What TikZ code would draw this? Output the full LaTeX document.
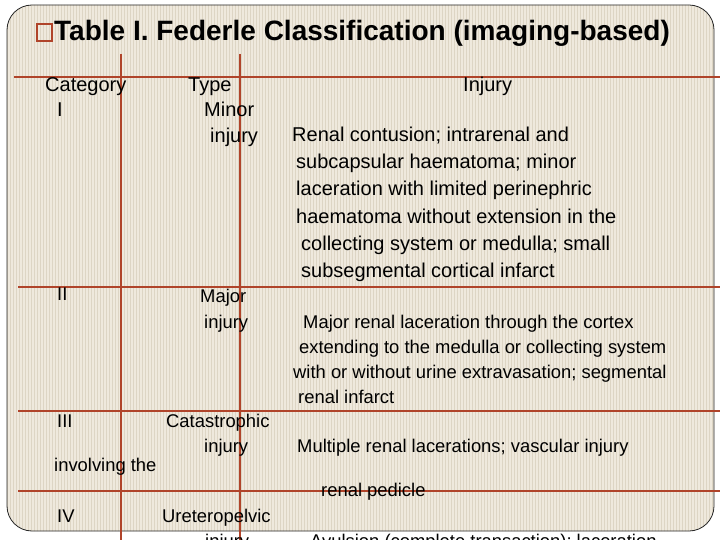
\documentclass[tikz,border=0pt]{standalone}
\usepackage{fontspec}
\setmainfont{Liberation Sans}
\begin{document}
\begin{tikzpicture}[x=1pt,y=-1pt,
  txt/.style={anchor=base west,inner sep=0pt,font=\fontsize{20}{20}\selectfont},
  tline/.style={draw=rline,line width=1.2pt}]
\definecolor{bg}{HTML}{EFE9DD}
\definecolor{stripe}{HTML}{DDD5C4}
\definecolor{rline}{HTML}{B0442A}
\useasboundingbox (0,0) rectangle (720,540);
\clip (0,0) rectangle (720,540);
\begin{scope}
\clip[rounded corners=25pt] (7,5) rectangle (714,531);
\fill[bg] (0,0) rectangle (720,540);
\foreach \i in {0,...,240} {\draw[stripe,line width=0.5pt] (3*\i+1.5,0) -- (3*\i+1.5,540);}
\end{scope}
\draw[black!85,line width=0.8pt,rounded corners=25pt] (7,5) rectangle (714,531);
% title
\draw[draw=rline,line width=1.2pt] (37,24) rectangle (52,41);
\node[txt,font=\fontsize{28}{28}\selectfont\bfseries] (title) at (54,41) {Table I. Federle Classification (imaging-based)};
% lines
\coordinate (v1t) at (121,54); \coordinate (v1b) at (121,540);
\coordinate (v2t) at (240,54); \coordinate (v2b) at (240,540);
\draw[tline] (v1t) -- (v1b);
\draw[tline] (v2t) -- (v2b);
\draw[tline] (14,77) -- (720,77);
\draw[tline] (18,287) -- (720,287);
\draw[tline] (18,411) -- (720,411);
\draw[tline] (18,491) -- (720,491);
% header
\node[txt] (h1) at (45,92) {Category};
\node[txt] (h2) at (188,92) {Type};
\node[txt] (h3) at (463,92) {Injury};
% row I
\node[txt] (c1) at (57,117) {I};
\node[txt] (t1a) at (204,117) {Minor};
\node[txt] (t1b) at (210,143) {injury};
\node[txt] (i1a) at (292,142) {Renal contusion; intrarenal and};
\node[txt] (i1b) at (296,169) {subcapsular haematoma; minor};
\node[txt] (i1c) at (296,196) {laceration with limited perinephric};
\node[txt] (i1d) at (296,223) {haematoma without extension in the};
\node[txt] (i1e) at (301,250) {collecting system or medulla; small};
\node[txt] (i1f) at (301,277) {subsegmental cortical infarct};
% row II
\begin{scope}[txt/.append style={font=\fontsize{18.4}{18.4}\selectfont}]
\node[txt] (c2) at (57,300) {II};
\node[txt] (t2a) at (200,302) {Major};
\node[txt] (t2b) at (204,328) {injury};
\node[txt] (i2a) at (303,328) {Major renal laceration through the cortex};
\node[txt] (i2b) at (299,353) {extending to the medulla or collecting system};
\node[txt] (i2c) at (293,378) {with or without urine extravasation; segmental};
\node[txt] (i2d) at (298,403) {renal infarct};
% row III
\node[txt] (c3) at (57,427) {III};
\node[txt] (t3a) at (166,427) {Catastrophic};
\node[txt] (t3b) at (204,452) {injury};
\node[txt] (i3a) at (297,452) {Multiple renal lacerations; vascular injury};
\node[txt] (i3b) at (54,471) {involving the};
\node[txt] (i3c) at (321,496) {renal pedicle};
% row IV
\node[txt] (c4) at (57,522) {IV};
\node[txt] (t4a) at (162,522) {Ureteropelvic};
\node[txt] (t4b) at (205,547) {injury};
\node[txt] (i4a) at (310,547) {Avulsion (complete transaction); laceration};
\end{scope}
\end{tikzpicture}
\end{document}
